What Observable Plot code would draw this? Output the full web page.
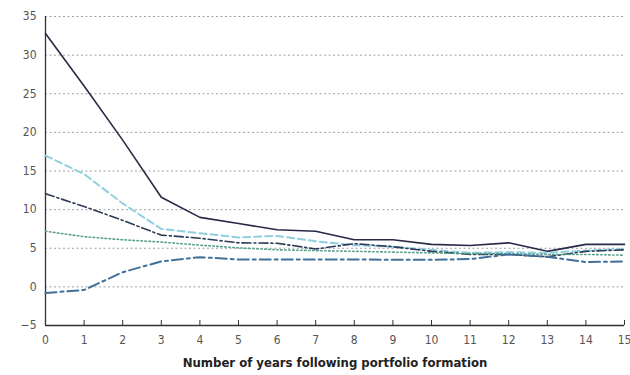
<!DOCTYPE html>
<html>
<head>
<meta charset="utf-8">
<script src="https://cdn.jsdelivr.net/npm/d3@7"></script>
<script src="https://cdn.jsdelivr.net/npm/@observablehq/plot@0.6"></script>
<style>
  html, body { margin: 0; padding: 0; background: #fff; }
  #chart { width: 630px; height: 375px; }
  svg { font-family: "Liberation Sans Narrow", "DejaVu Sans Condensed", "Liberation Sans", sans-serif; }
</style>
</head>
<body>
<div id="chart"></div>
<script>
const years = [0,1,2,3,4,5,6,7,8,9,10,11,12,13,14,15];
const yTicks = [-5,0,5,10,15,20,25,30,35];
const xLabel = "Number of years following portfolio formation";

const seriesNames = ["s1","s2","s3","s4","s5"];
const s1 = [32.8,26.0,19.0,11.6,9.0,8.2,7.4,7.2,6.1,6.1,5.5,5.35,5.7,4.6,5.5,5.5];
const s2 = [17.0,14.6,10.8,7.5,6.95,6.4,6.6,5.9,5.4,5.2,4.8,4.4,4.5,4.4,4.7,4.9];
const s3 = [12.05,10.4,8.6,6.7,6.3,5.7,5.65,4.9,5.6,5.2,4.6,4.2,4.2,3.9,4.6,4.8];
const s4 = [7.2,6.5,6.1,5.8,5.4,5.05,4.8,4.7,4.6,4.5,4.4,4.3,4.3,4.2,4.2,4.1];
const s5 = [-0.8,-0.4,1.9,3.3,3.85,3.55,3.55,3.55,3.55,3.5,3.5,3.6,4.2,3.9,3.2,3.3];

const colors = ["#262a46","#8fd0e0","#2f3b55","#5b9e8e","#41709a"];
const dashes = [null,"7,4","9,3,2,3","1.5,2.5","11,4,3,4"];
const widths = [1.6,2,1.6,1.6,2];

const allSeries = [s1,s2,s3,s4,s5];
const marks = [
  Plot.ruleY(yTicks.filter(d => d > -5), {stroke: "#888", strokeDasharray: "2,2.5", strokeWidth: 0.8}),
  Plot.ruleY([-5], {stroke: "#333", strokeWidth: 1.3}),
  Plot.ruleX([0], {stroke: "#333", strokeWidth: 1.3}),
  Plot.ruleX(years.filter(d => d > 0), {x: d => d, y1: -5, y2: -4.35, stroke: "#333", strokeWidth: 1}),
  Plot.axisY(yTicks, {tickSize: 0, tickPadding: 9, fontSize: 12, color: "#555", label: null}),
  Plot.axisX(years, {tickSize: 0, tickPadding: 10, fontSize: 12, color: "#555", label: null}),
  Plot.text([xLabel], {frameAnchor: "bottom", dy: 41, fontSize: 13, fontWeight: "bold", fill: "#222", x: 7.5})
];
allSeries.forEach((s, i) => {
  const data = years.map((y, j) => ({year: y, value: s[j], name: seriesNames[i]}));
  marks.push(Plot.line(data, {x: "year", y: "value", stroke: colors[i], strokeWidth: widths[i], strokeDasharray: dashes[i]}));
});

const chart = Plot.plot({
  width: 630,
  height: 375,
  marginLeft: 45,
  marginRight: 6,
  marginTop: 16,
  marginBottom: 50,
  x: {domain: [0, 15]},
  y: {domain: [-5, 35]},
  style: {background: "#fff"},
  marks
});
document.getElementById("chart").appendChild(chart);
</script>
</body>
</html>
